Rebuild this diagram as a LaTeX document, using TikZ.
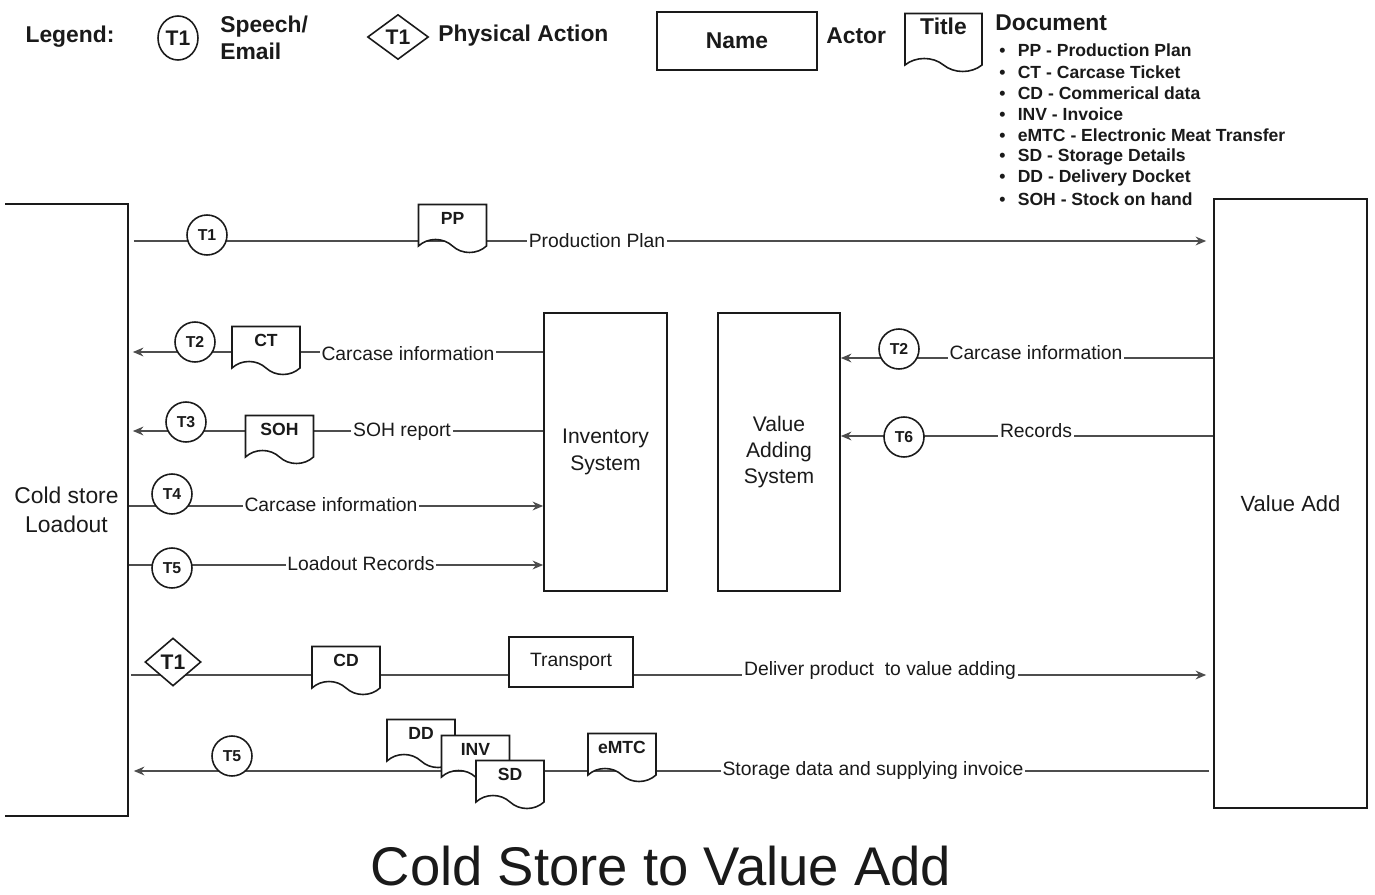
\documentclass[tikz,border=0pt]{standalone}
\usepackage{fontspec}
\setmainfont{Liberation Sans}
\usepackage{tikz}
\usetikzlibrary{arrows.meta, positioning, shapes.geometric, shapes.symbols, backgrounds}

\definecolor{linegray}{HTML}{4D4D4D}
\definecolor{inkblack}{HTML}{1A1A1A}

\tikzset{
  % Actor / system boxes
  actor/.style={
    rectangle, draw=inkblack, line width=1pt, fill=white,
    align=center, font=\fontsize{12}{15}\selectfont, text=inkblack,
  },
  % Documents
  doc/.style={
    tape, tape bend top=none, tape bend bottom=out and in, tape bend height=0.26cm,
    draw=inkblack, line width=0.9pt, fill=white, text=inkblack,
    minimum width=1.36cm, minimum height=0.96cm, inner sep=1pt, text depth=0.16cm,
    font=\bfseries\fontsize{10}{12}\selectfont,
  },
  % Speech / email transaction
  speech/.style={
    circle, draw=inkblack, line width=0.9pt, fill=white, text=inkblack,
    minimum size=0.8cm, inner sep=0pt, font=\bfseries\fontsize{9}{11}\selectfont,
  },
  % Physical action
  action/.style={
    diamond, draw=inkblack, line width=0.9pt, fill=white, text=inkblack,
    minimum width=1.12cm, minimum height=0.96cm, inner sep=0pt,
    font=\bfseries\fontsize{12}{14}\selectfont,
  },
  % Flows
  flow/.style={-{Stealth[length=6pt,width=5pt]}, line width=0.8pt, draw=linegray},
  % Labels on flows
  flowlabel/.style={fill=white, inner sep=1pt, font=\fontsize{11}{13}\selectfont, text=inkblack},
  % Legend texts
  legendtext/.style={font=\bfseries\fontsize{13}{15.5}\selectfont, text=inkblack, align=left, inner sep=0pt},
}

\begin{document}
\begin{tikzpicture}[
  x=0.02cm, y=-0.02cm,
  bulletitem/.style={anchor=west, inner sep=0pt, font=\bfseries\fontsize{10}{12}\selectfont, text=inkblack},
]
  \useasboundingbox (0,0) rectangle (1375,895);

  % Legend
  \node[legendtext] (legend) at (70,37) {Legend:};
  \node[speech, ellipse, minimum width=0.8cm, minimum height=0.88cm,
        font=\bfseries\fontsize{12}{14}\selectfont] (lgspeech) at (178,38) {T1};
  \node[legendtext, anchor=west] (lgspeechtxt) at (220,38) {Speech/\\Email};
  \node[action, minimum width=1.22cm, minimum height=0.9cm,
        font=\bfseries\fontsize{12}{14}\selectfont] (lgaction) at (398,37) {T1};
  \node[legendtext, anchor=west] (lgactiontxt) at (438,36) {Physical Action};
  \node[actor, minimum width=3.2cm, minimum height=1.16cm,
        font=\bfseries\fontsize{13}{15}\selectfont] (lgactor) at (737,41) {Name};
  \node[legendtext, anchor=west] (lgactortxt) at (826,36) {Actor};
  \node[doc, minimum width=1.54cm, minimum height=1.16cm, text depth=0.4cm,
        font=\bfseries\fontsize{13}{15}\selectfont] (lgdoc) at (943.5,36) {Title};
  \node[legendtext, anchor=west] (lgdoctxt) at (995,23) {Document};
  \foreach \entry [count=\i] in {PP - Production Plan, CT - Carcase Ticket,
      CD - Commerical data, INV - Invoice, eMTC - Electronic Meat Transfer,
      SD - Storage Details, DD - Delivery Docket, SOH - Stock on hand}
    \node[bulletitem] (item\i) at (999,{29.5+21.2*\i}) {\makebox[10.5pt][l]{\textbullet}\entry};

  % Actors and systems
  \node[actor, draw=none, minimum width=2.42cm, minimum height=12.2cm,
        font=\fontsize{13}{16.5}\selectfont] (cold) at (66.5,510) {Cold store\\Loadout};
  \draw[line width=1pt, draw=inkblack]
    (cold.north west) -- (cold.north east) -- (cold.south east) -- (cold.south west);
  \node[actor, minimum width=3.06cm, minimum height=12.18cm,
        font=\fontsize{12.5}{15}\selectfont] (vadd) at (1290.5,503.5) {Value Add};
  \node[actor, minimum width=2.46cm, minimum height=5.56cm] (inv) at (605.5,452) {Inventory\\System};
  \node[actor, minimum width=2.44cm, minimum height=5.56cm] (vas) at (779,452) {Value\\Adding\\System};
  \node[actor, minimum width=2.48cm, minimum height=1.0cm,
        font=\fontsize{11}{13}\selectfont] (transport) at (571,662) {Transport};

  % Documents
  \node[doc] (pp) at (452.5,222) {PP};
  \node[doc] (ct) at (266,344) {CT};
  \node[doc] (soh) at (279.5,433) {SOH};
  \node[doc] (cd) at (346,664) {CD};
  \node[doc] (dd) at (421,737) {DD};
  \node[doc] (invdoc) at (475.5,753) {INV};
  \node[doc] (sd) at (510,778) {SD};
  \node[doc] (emtc) at (622,751) {eMTC};

  % Transactions
  \node[speech] (tpp) at (207,235) {T1};
  \node[speech] (tct) at (195,342) {T2};
  \node[speech] (tsoh) at (186,422) {T3};
  \node[speech] (tcarc) at (172,494) {T4};
  \node[speech] (tload) at (172,568) {T5};
  \node[action] (tdeliver) at (173,662) {T1};
  \node[speech] (tstore) at (232,756) {T5};
  \node[speech] (tvcarc) at (899,349) {T2};
  \node[speech] (trec) at (904,437) {T6};

  % Flow labels
  \node[flowlabel] (lpp) at (597,241) {Production Plan};
  \node[flowlabel] (lct) at (408,354) {Carcase information};
  \node[flowlabel] (lsoh) at (402,432) {SOH report};
  \node[flowlabel] (lcarc) at (331,505) {Carcase information};
  \node[flowlabel] (lload) at (361,564) {Loadout Records};
  \node[flowlabel] (lvcarc) at (1036,353) {Carcase information};
  \node[flowlabel] (lrec) at (1036,431) {Records};
  \node[flowlabel] (ldeliver) at (880,670) {Deliver product\ \ to value adding};
  \node[flowlabel] (lstore) at (873,770) {Storage data and supplying invoice};

  % Title
  \node[font=\fontsize{31}{36}\selectfont, text=inkblack] (title) at (661,866) {Cold Store to Value Add};

  % Flows
  \begin{scope}[on background layer]
    \coordinate (r1) at (0,241);
    \coordinate (r2) at (0,352);
    \coordinate (r2b) at (0,358);
    \coordinate (r3) at (0,431);
    \coordinate (r3b) at (0,436);
    \coordinate (r4) at (0,506);
    \coordinate (r5) at (0,565);
    \coordinate (r6) at (0,675);
    \coordinate (r7) at (0,771);
    \draw[flow, shorten <=0.12cm, shorten >=0.14cm] (cold.east |- r1) -- (vadd.west |- r1);
    \draw[flow, shorten >=0.1cm] (inv.west |- r2) -- (cold.east |- r2);
    \draw[flow] (vadd.west |- r2b) -- (vas.east |- r2b);
    \draw[flow, shorten >=0.1cm] (inv.west |- r3) -- (cold.east |- r3);
    \draw[flow] (vadd.west |- r3b) -- (vas.east |- r3b);
    \draw[flow] (cold.east |- r4) -- (inv.west |- r4);
    \draw[flow, shorten <=-0.1cm] (cold.east |- r5) -- (inv.west |- r5);
    \draw[flow, shorten <=0.06cm, shorten >=0.14cm] (cold.east |- r6) -- (vadd.west |- r6);
    \draw[flow, shorten <=0.08cm, shorten >=0.12cm] (vadd.west |- r7) -- (cold.east |- r7);
  \end{scope}
\end{tikzpicture}
\end{document}
